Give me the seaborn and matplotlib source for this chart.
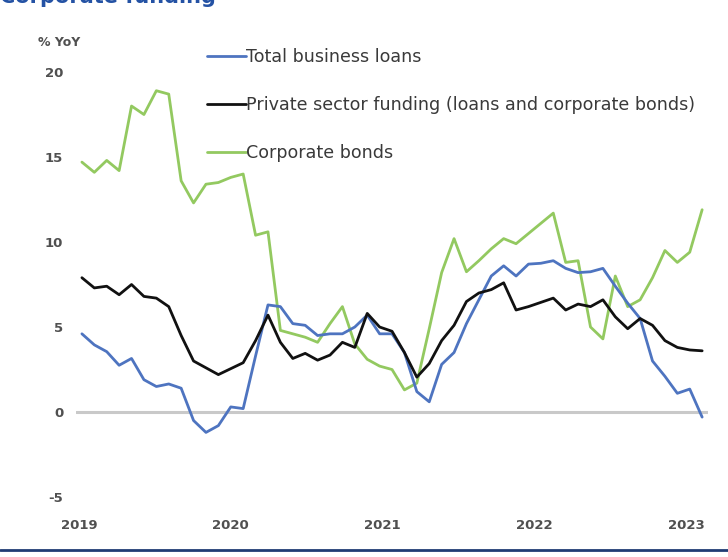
import numpy as np
import pandas as pd
import matplotlib
matplotlib.use("Agg")
import matplotlib.pyplot as plt
from matplotlib.lines import Line2D
import seaborn as sns

# Monthly year-on-year growth, Jan 2019 - Mar 2023
months = pd.date_range("2019-01-01", periods=51, freq="MS")

business_loans = [4.6, 3.95, 3.55, 2.75, 3.15, 1.9, 1.5, 1.65, 1.4, -0.5,
                  -1.2, -0.8, 0.3, 0.2, 3.3, 6.3, 6.2, 5.2, 5.1, 4.5,
                  4.6, 4.6, 5.0, 5.7, 4.6, 4.6, 3.5, 1.2, 0.6, 2.8,
                  3.5, 5.2, 6.6, 8.0, 8.6, 8.0, 8.7, 8.75, 8.9, 8.45,
                  8.2, 8.25, 8.45, 7.4, 6.4, 5.5, 3.0, 2.1, 1.1, 1.35, -0.3]

private_funding = [7.9, 7.3, 7.4, 6.9, 7.5, 6.8, 6.7, 6.2, 4.5, 3.0,
                   2.6, 2.2, 2.55, 2.9, 4.2, 5.7, 4.1, 3.15, 3.45, 3.05,
                   3.35, 4.1, 3.8, 5.8, 5.0, 4.75, 3.5, 2.05, 2.85, 4.2,
                   5.1, 6.5, 7.0, 7.2, 7.6, 6.0, 6.2, 6.45, 6.7, 6.0,
                   6.35, 6.2, 6.6, 5.6, 4.9, 5.5, 5.1, 4.2, 3.8, 3.65, 3.6]

corporate_bonds = [14.7, 14.1, 14.8, 14.2, 18.0, 17.5, 18.9, 18.7, 13.6, 12.3,
                   13.4, 13.5, 13.8, 14.0, 10.4, 10.6, 4.8, 4.6, 4.4, 4.1,
                   5.2, 6.2, 4.0, 3.1, 2.7, 2.5, 1.3, 1.7, 4.9, 8.2,
                   10.2, 8.25, 8.9, 9.6, 10.2, 9.9, 10.5, 11.1, 11.7, 8.8,
                   8.9, 5.0, 4.3, 8.0, 6.2, 6.6, 7.9, 9.5, 8.8, 9.4, 11.9]

series_names = ["Total business loans",
                "Private sector funding (loans and corporate bonds)",
                "Corporate bonds"]
year_labels = ["2019", "2020", "2021", "2022", "2023"]
y_ticks = [-5, 0, 5, 10, 15, 20]

colors = {series_names[0]: "#4e74c0",
          series_names[1]: "#111111",
          series_names[2]: "#93c960"}

df = pd.DataFrame({
    "t": np.arange(len(months)),
    series_names[0]: business_loans,
    series_names[1]: private_funding,
    series_names[2]: corporate_bonds,
}).melt(id_vars="t", var_name="series", value_name="value")

sns.set_theme(style="white")
plt.rcParams["font.family"] = ["DejaVu Sans"]

fig = plt.figure(figsize=(7.28, 5.57), dpi=100)
ax = fig.add_axes([0.104, 0.1077, 0.869, 0.763])

ax.axhline(0, color="#c9c9c9", lw=2.2, zorder=1)

# bonds underneath, funding on top
for name in [series_names[2], series_names[0], series_names[1]]:
    sns.lineplot(data=df[df["series"] == name], x="t", y="value",
                 color=colors[name], lw=2.0, ax=ax, legend=False, zorder=3)

ax.set_xlim(-0.5, len(months) - 0.5)
ax.set_ylim(-5, 20)
ax.set_xticks(np.linspace(-0.25, 48.75, len(year_labels)))
ax.set_xticklabels(year_labels)
ax.set_yticks(y_ticks)
ax.set_yticklabels([str(v) for v in y_ticks])
ax.set_xlabel("")
ax.set_ylabel("")
for lab in ax.get_xticklabels() + ax.get_yticklabels():
    lab.set_fontweight("bold")
    lab.set_color("#505050")
    lab.set_fontsize(9.5)
ax.tick_params(axis="x", length=0, pad=16)
ax.tick_params(axis="y", length=0, pad=9)
for s in ax.spines.values():
    s.set_visible(False)

handles = [Line2D([], [], color=colors[n], lw=2.0) for n in series_names]
ax.legend(handles, series_names, loc="upper left",
          bbox_to_anchor=(207 / 728, 1 - 48 / 557),
          bbox_transform=fig.transFigure, frameon=False,
          borderpad=0, borderaxespad=0, handlelength=2.2,
          handletextpad=0.05, labelspacing=1.72, fontsize=12.6,
          labelcolor="#3a3a3a")

fig.text(38 / 728, 1 - 43 / 557, "% YoY", ha="left", va="center",
         fontsize=9, fontweight="bold", color="#505050")

# page heading, mostly above the top edge
fig.text(0.0, 1 - 3 / 557, "Corporate funding", ha="left", va="baseline",
         fontsize=15, fontweight="bold", color="#2452a4")

fig.add_artist(Line2D([0, 1], [1 - 550 / 557] * 2, transform=fig.transFigure,
                      color="#1f3b73", lw=2))

fig.savefig("out.png", dpi=100, facecolor="white")
